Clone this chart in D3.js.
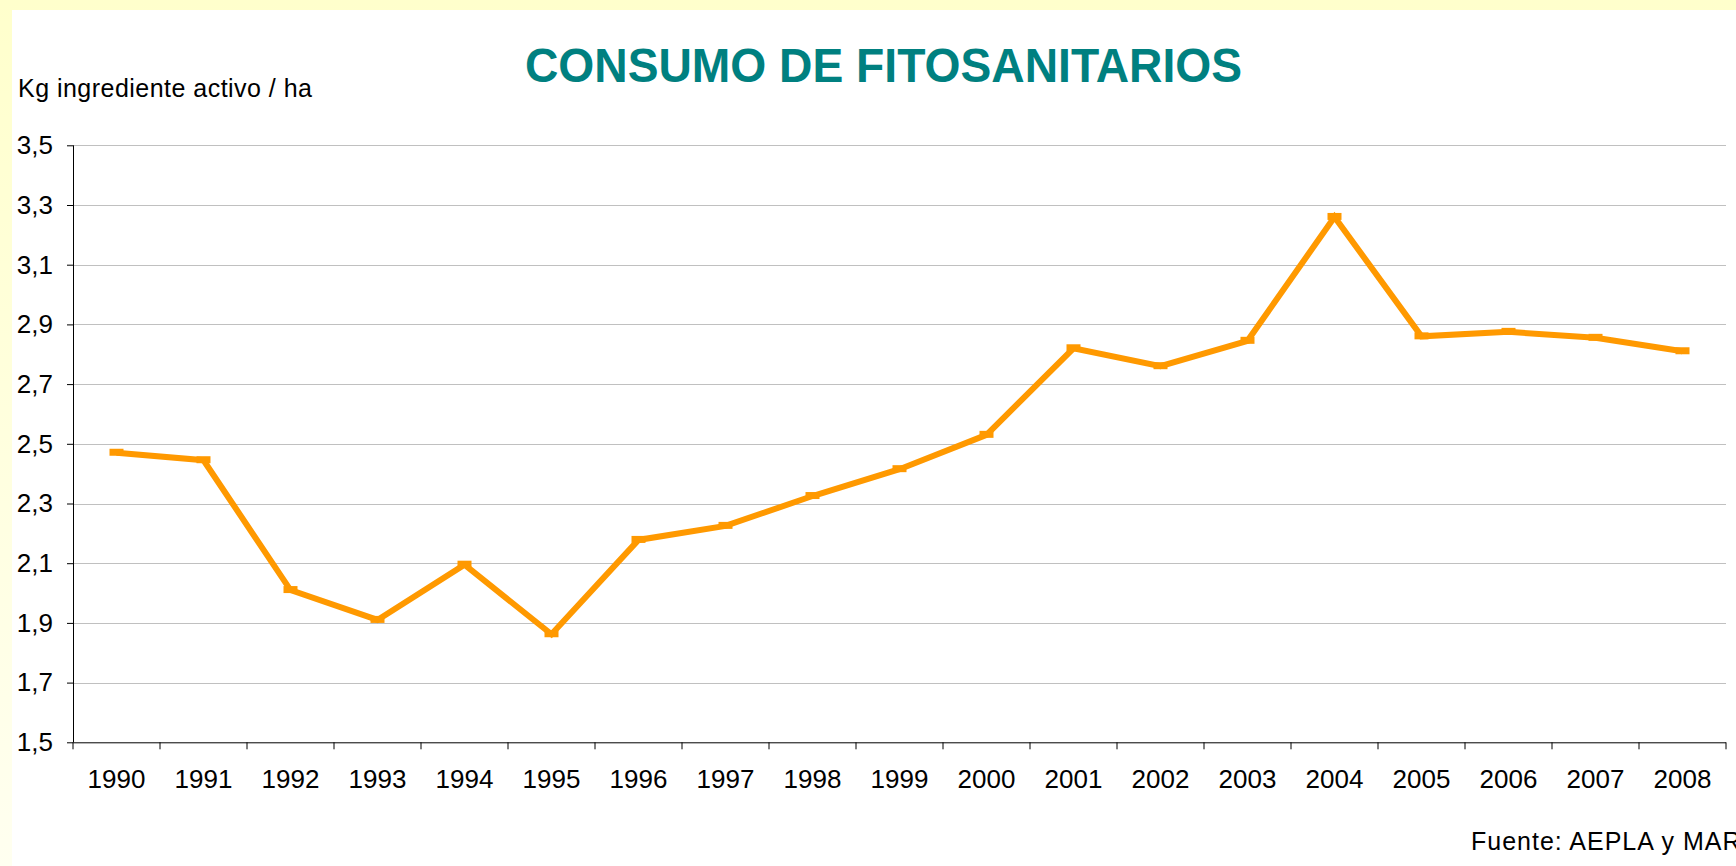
<html>
<head>
    <style>
        body { margin: 0; background: #ffffcc; }
        svg { display: block; font-family: "Liberation Sans", Arial, sans-serif; }
        .grid line { stroke: #c0c0c0; stroke-width: 1; }
        .axis path, .axis line { stroke: #000; }
        .axis text { font-size: 26px; fill: #000; }
    </style>
    <script src="https://d3js.org/d3.v7.min.js"></script>
</head>
<body>
    <svg width="1736" height="866"></svg>
    <script>

        var years = ["1990","1991","1992","1993","1994","1995","1996","1997","1998","1999",
                     "2000","2001","2002","2003","2004","2005","2006","2007","2008"];
        var consumo = [2.47, 2.445, 2.01, 1.91, 2.095, 1.862, 2.178, 2.225, 2.325, 2.415,
                       2.53, 2.82, 2.76, 2.845, 3.26, 2.86, 2.875, 2.855, 2.81];
        var yTicks = [1.5, 1.7, 1.9, 2.1, 2.3, 2.5, 2.7, 2.9, 3.1, 3.3, 3.5];

        var svg = d3.select("svg");

        // fondo: marco amarillo arriba y a la izquierda
        var defs = svg.append("defs");
        var grad = defs.append("linearGradient").attr("id", "bg")
                       .attr("x1", 0).attr("y1", 0).attr("x2", 0).attr("y2", 1);
        grad.append("stop").attr("offset", "0%").attr("stop-color", "#ffffcc");
        grad.append("stop").attr("offset", "100%").attr("stop-color", "#fffff0");
        svg.append("rect").attr("width", 1736).attr("height", 866).attr("fill", "url(#bg)");
        svg.append("rect").attr("x", 12).attr("y", 10).attr("width", 1724).attr("height", 856).attr("fill", "#fff");

        var plotLeft = 73, plotRight = 1726, plotTop = 145.3, plotBottom = 742.3;

        var x = d3.scaleBand().domain(years).range([plotLeft, plotRight]);
        var y = d3.scaleLinear().domain([1.5, 3.5]).range([plotBottom, plotTop]);

        // lineas de cuadricula
        svg.append("g")
           .attr("class", "grid")
           .selectAll("line")
           .data(yTicks.slice(1))
           .enter().append("line")
           .attr("x1", plotLeft).attr("x2", plotRight)
           .attr("y1", function(d) { return Math.round(y(d)) + 0.5; })
           .attr("y2", function(d) { return Math.round(y(d)) + 0.5; });

        // eje y
        var yAxis = svg.append("g")
           .attr("class", "axis")
           .attr("transform", "translate(" + plotLeft + ",0)")
           .call(d3.axisLeft(y).tickValues(yTicks).tickSize(6).tickPadding(14)
                   .tickFormat(function(d) { return d3.format(".1f")(d).replace(".", ","); }));
        yAxis.select(".domain").attr("d", "M0.5," + plotTop + "V" + plotBottom);

        // eje x
        var xAxis = svg.append("g")
           .attr("class", "axis")
           .attr("transform", "translate(0," + plotBottom + ")")
           .call(d3.axisBottom(x).tickSize(0).tickPadding(27));
        xAxis.select(".domain").attr("d", "M" + plotLeft + ",0.5H" + plotRight);
        xAxis.selectAll(".edge")
             .data(years.concat(["end"]))
             .enter().append("line")
             .attr("class", "edge")
             .attr("x1", function(d, i) { return plotLeft + i * x.bandwidth(); })
             .attr("x2", function(d, i) { return plotLeft + i * x.bandwidth(); })
             .attr("y1", 0).attr("y2", 7)
             .attr("stroke", "#000");

        // serie
        var cx = function(d, i) { return x(years[i]) + x.bandwidth() / 2; };

        svg.append("path")
           .datum(consumo)
           .attr("fill", "none")
           .attr("stroke", "#ff9900")
           .attr("stroke-width", 6)
           .attr("stroke-linejoin", "miter")
           .attr("d", d3.line().x(cx).y(function(d) { return y(d); }));

        svg.selectAll(".mark")
           .data(consumo)
           .enter().append("rect")
           .attr("class", "mark")
           .attr("x", function(d, i) { return cx(d, i) - 7; })
           .attr("y", function(d) { return y(d) - 4; })
           .attr("width", 14).attr("height", 7)
           .attr("fill", "#ff9900");

        // textos
        svg.append("text")
           .attr("x", 525).attr("y", 82)
           .attr("font-size", 49)
           .attr("font-weight", "bold")
           .attr("fill", "#008080")
           .attr("textLength", 717)
           .attr("lengthAdjust", "spacingAndGlyphs")
           .text("CONSUMO DE FITOSANITARIOS");

        svg.append("text")
           .attr("x", 18).attr("y", 97)
           .attr("font-size", 25)
           .attr("textLength", 294)
           .text("Kg ingrediente activo / ha");

        svg.append("text")
           .attr("x", 1471).attr("y", 850)
           .attr("font-size", 25)
           .style("letter-spacing", "1px")
           .text("Fuente: AEPLA y MARM");
    </script>
</body>
</html>
